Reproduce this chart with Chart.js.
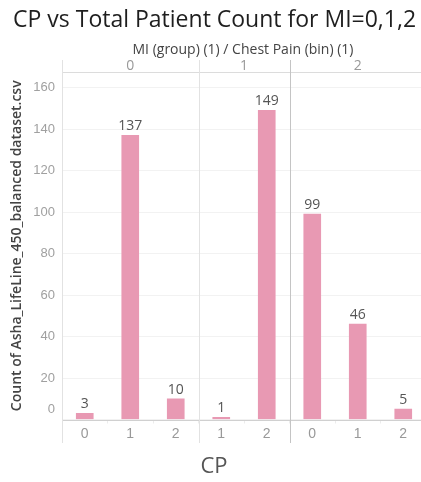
<!DOCTYPE html>
<html>
<head>
<meta charset="utf-8">
<script src="https://cdn.jsdelivr.net/npm/chart.js@4"></script>
<style>
  html, body { margin: 0; padding: 0; background: #fff; overflow: hidden; }
  #wrap { position: relative; width: 426px; height: 482px; }
</style>
</head>
<body>
<div id="wrap"><canvas id="c" width="426" height="482"></canvas></div>
<script>
// Patient counts per chest-pain bin, split by MI group
const miGroups = ['0', '1', '2'];
const mi0Cp = ['0', '1', '2'];
const mi0Counts = [3, 137, 10];
const mi1Cp = ['1', '2'];
const mi1Counts = [1, 149];
const mi2Cp = ['0', '1', '2'];
const mi2Counts = [99, 46, 5];
const yTicks = [0, 20, 40, 60, 80, 100, 120, 140, 160];

const panels = [
  { group: miGroups[0], cp: mi0Cp, counts: mi0Counts },
  { group: miGroups[1], cp: mi1Cp, counts: mi1Counts },
  { group: miGroups[2], cp: mi2Cp, counts: mi2Counts }
];
const labels = panels.flatMap(p => p.cp);
const values = panels.flatMap(p => p.counts);

const BAR = '#e899b3';
const FONT = "'Open Sans', sans-serif";

const panelPlugin = {
  id: 'panelPlugin',
  afterDraw(chart) {
    const { ctx, chartArea: a, scales: { x, y } } = chart;
    const half = (x.getPixelForValue(1) - x.getPixelForValue(0)) / 2;
    const y0 = y.getPixelForValue(0);
    ctx.save();

    // panel boundaries
    let idx = 0;
    const bounds = [];
    panels.forEach(p => {
      const l = x.getPixelForValue(idx) - half;
      idx += p.cp.length;
      const r = x.getPixelForValue(idx - 1) + half;
      bounds.push([l, r]);
    });

    // header rule
    ctx.strokeStyle = '#dcdcdc';
    ctx.lineWidth = 1;
    ctx.beginPath();
    ctx.moveTo(a.left, Math.round(a.top) + 0.5);
    ctx.lineTo(chart.width, Math.round(a.top) + 0.5);
    ctx.stroke();

    // zero line
    ctx.strokeStyle = '#d0d0d0';
    ctx.beginPath();
    ctx.moveTo(a.left, Math.round(y0) + 0.5);
    ctx.lineTo(chart.width, Math.round(y0) + 0.5);
    ctx.stroke();

    // vertical dividers
    const vline = (px, color) => {
      ctx.strokeStyle = color;
      ctx.beginPath();
      ctx.moveTo(Math.round(px) + 0.5, 60);
      ctx.lineTo(Math.round(px) + 0.5, 443);
      ctx.stroke();
    };
    vline(a.left, '#e2e2e2');
    vline(bounds[1][0], '#e2e2e2');
    vline(bounds[2][0], '#c4c4c4');

    // header texts
    ctx.textAlign = 'center';
    ctx.textBaseline = 'middle';
    ctx.fillStyle = '#444';
    ctx.font = `14px ${FONT}`;
    ctx.fillText('MI (group) (1) / Chest Pain (bin) (1)', 243, 50);
    ctx.fillStyle = '#999';
    panels.forEach((p, i) => {
      ctx.fillText(p.group, (bounds[i][0] + bounds[i][1]) / 2, 66);
    });

    // zero tick label, lifted off the axis line
    ctx.textAlign = 'right';
    ctx.font = "13px 'Liberation Sans', Arial, sans-serif";
    ctx.fillStyle = '#a0a0a0';
    ctx.fillText('0', a.left - 7, y0 - 10);

    // value labels
    ctx.textAlign = 'center';
    ctx.textBaseline = 'alphabetic';
    ctx.font = `14px ${FONT}`;
    ctx.fillStyle = '#555';
    chart.getDatasetMeta(0).data.forEach((bar, i) => {
      ctx.fillText(String(values[i]), bar.x, bar.y - 5);
    });

    // x axis title
    ctx.textBaseline = 'middle';
    ctx.font = `22px ${FONT}`;
    ctx.fillStyle = '#555';
    ctx.fillText('CP', 214, 467);

    // chart title
    ctx.textAlign = 'left';
    ctx.font = `500 23px ${FONT}`;
    ctx.fillStyle = '#1e1e1e';
    ctx.fillText('CP vs Total Patient Count for MI=0,1,2', 13, 20);
    ctx.restore();
  }
};

new Chart(document.getElementById('c'), {
  type: 'bar',
  data: {
    labels: labels,
    datasets: [{
      data: values,
      backgroundColor: BAR,
      borderWidth: 0,
      barThickness: 17
    }]
  },
  options: {
    responsive: false,
    animation: false,
    layout: { padding: { top: 72, left: 0, right: 0, bottom: 0 } },
    plugins: { legend: { display: false }, tooltip: { enabled: false } },
    scales: {
      x: {
        type: 'category',
        offset: true,
        grid: {
          offset: true,
          drawOnChartArea: false,
          drawTicks: true,
          tickLength: 4,
          color: '#ececec'
        },
        border: { display: false },
        ticks: {
          color: '#999',
          font: { family: "'Liberation Sans', Arial, sans-serif", size: 14 },
          padding: 2,
          maxRotation: 0
        },
        afterFit(s) { s.height = 62.5; }
      },
      y: {
        min: 0,
        max: 167.5,
        ticks: {
          stepSize: 20,
          color: '#a0a0a0',
          font: { family: "'Liberation Sans', Arial, sans-serif", size: 13 },
          padding: 7,
          callback: v => (v === 0 ? '' : v)
        },
        afterBuildTicks(s) {
          s.ticks = yTicks.map(v => ({ value: v }));
        },
        grid: { color: '#f2f2f2', drawTicks: false },
        border: { display: false },
        title: {
          display: true,
          text: 'Count of Asha_LifeLine_450_balanced dataset.csv',
          color: '#444',
          font: { family: FONT, size: 14, weight: '600' },
          padding: { top: 9, bottom: 0 }
        },
        afterFit(s) { s.width = 62; }
      }
    }
  },
  plugins: [panelPlugin]
});
</script>
</body>
</html>
